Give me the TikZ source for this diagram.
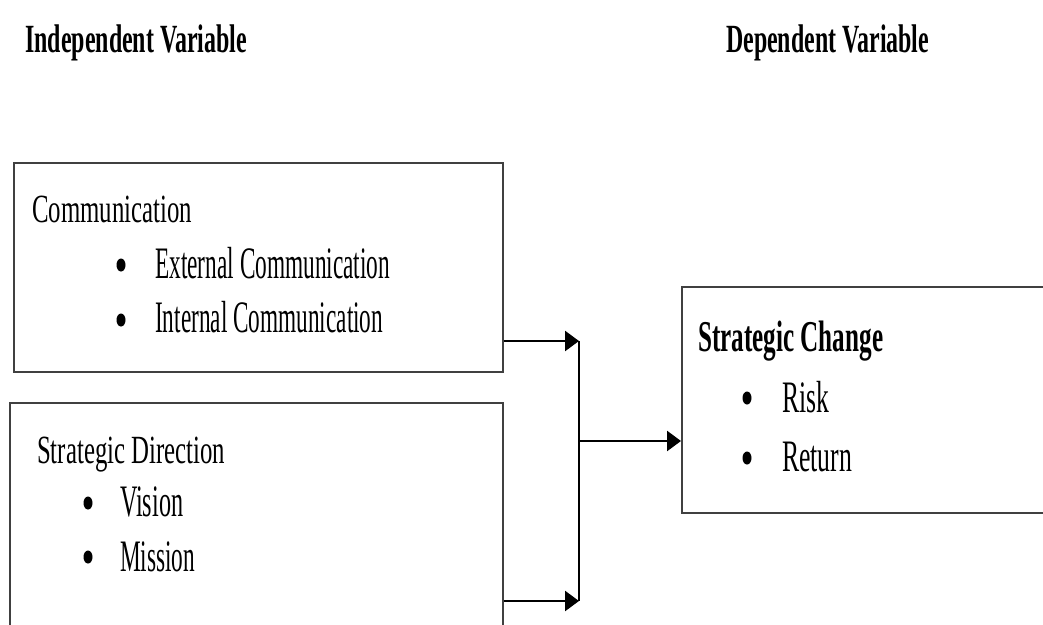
\documentclass[tikz,border=0pt]{standalone}
\usepackage{fontspec}
\setmainfont{Liberation Serif}
\usetikzlibrary{arrows.meta,shapes.geometric}
\newcommand\fitx[3]{\resizebox{#1pt}{\height}{\fontsize{#2pt}{#2pt}\selectfont #3}}
\begin{document}
\begin{tikzpicture}[x=1pt,y=-1pt,
  box/.style={draw=black!75, line width=1.6pt, inner sep=0pt, anchor=north west},
  txt/.style={inner sep=0pt, anchor=base west},
  conn/.style={line width=2.6pt, -{Triangle[length=14pt,width=20pt]}},
  vline/.style={line width=1.4pt},
  bul/.style={ellipse, fill=black, inner sep=0pt, minimum width=9pt, minimum height=13pt}]
\useasboundingbox (0,0) rectangle (1043,624);
\clip (0,0) rectangle (1043,624);
\fill[white] (0,0) rectangle (1043,624);

% titles
\node[txt] (t1) at (25,52) {\fitx{222}{40}{\bfseries Independent Variable}};
\node[txt] (t2) at (726,52) {\fitx{203}{40}{\bfseries Dependent Variable}};

% boxes
\node[box, minimum width=489pt, minimum height=209pt] (b1) at (13,162) {};
\node[box, minimum width=493pt, minimum height=230pt] (b2) at (9,402) {};
\node[box, minimum width=370pt, minimum height=226pt] (b3) at (681,286) {};

% box 1 text
\node[txt] (h1) at (32,222) {\fitx{160}{40}{Communication}};
\node[bul] (p11) at (121,265) {};
\node[txt] (e11) at (155,278) {\fitx{235}{45}{External Communication}};
\node[bul] (p12) at (121,320) {};
\node[txt] (e12) at (155,332) {\fitx{228}{45}{Internal Communication}};

% box 2 text
\node[txt] (h2) at (37,463) {\fitx{188}{40}{Strategic Direction}};
\node[bul] (p21) at (88,503) {};
\node[txt] (e21) at (120,516) {\fitx{63}{45}{Vision}};
\node[bul] (p22) at (88,557) {};
\node[txt] (e22) at (120,571) {\fitx{75}{45}{Mission}};

% box 3 text
\node[txt] (h3) at (698,351) {\fitx{185}{44}{\bfseries Strategic Change}};
\node[bul] (p31) at (747,398) {};
\node[txt] (e31) at (782,412) {\fitx{47}{45}{Risk}};
\node[bul] (p32) at (747,458) {};
\node[txt] (e32) at (782,471) {\fitx{70}{45}{Return}};

% connectors
\coordinate (j1) at (579,341);
\coordinate (j2) at (579,601);
\coordinate (jm) at (579,441);
\draw[conn] (b1.east |- j1) -- (j1);
\draw[conn] (b2.east |- j2) -- (j2);
\draw[vline] (j1) -- (j2);
\draw[conn] (jm) -- (b3.west |- jm);
\end{tikzpicture}
\end{document}
